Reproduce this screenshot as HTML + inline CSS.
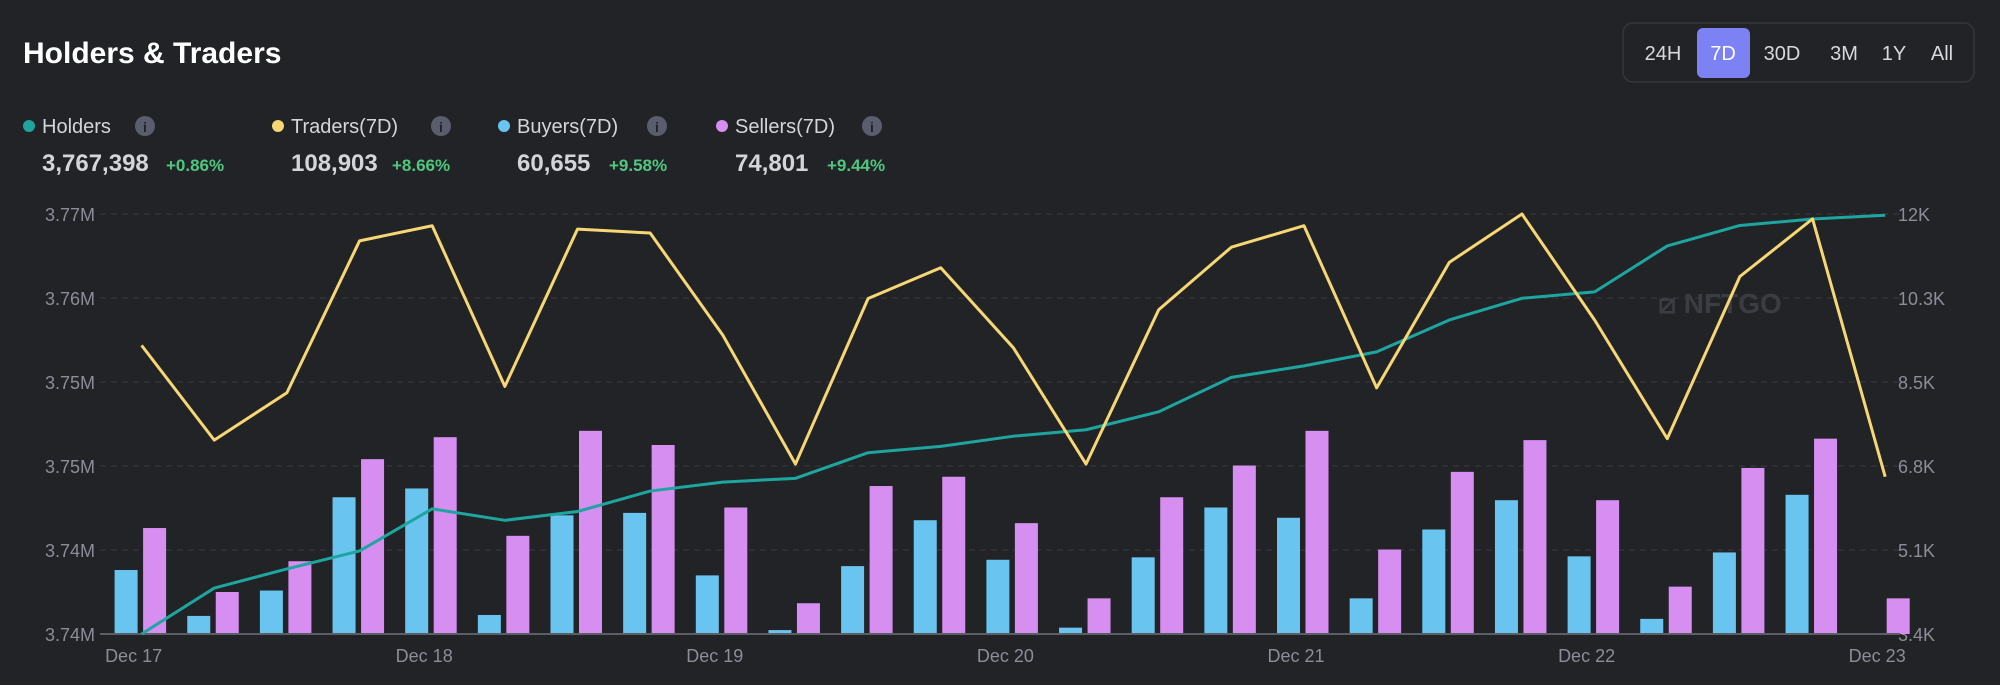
<!DOCTYPE html>
<html><head><meta charset="utf-8"><style>
html,body{margin:0;padding:0;background:#222327;}
svg{display:block;font-family:"Liberation Sans",sans-serif;}
</style></head><body>
<svg id="chart" width="2000" height="685" viewBox="0 0 2000 685">
<rect x="0" y="0" width="2000" height="685" fill="#222327"/>
<text x="23" y="63" font-size="30" font-weight="bold" fill="#ffffff">Holders &amp; Traders</text>

<g>
<rect x="1623" y="23" width="351" height="59" rx="10" fill="none" stroke="#34353b" stroke-width="1.5"/>
<rect x="1697" y="28" width="53" height="50" rx="6" fill="#7c82f4"/>
<text x="1663" y="60" font-size="20" fill="#d8d9de" text-anchor="middle">24H</text>
<text x="1723" y="60" font-size="20" fill="#ffffff" text-anchor="middle">7D</text>
<text x="1782" y="60" font-size="20" fill="#d8d9de" text-anchor="middle">30D</text>
<text x="1844" y="60" font-size="20" fill="#d8d9de" text-anchor="middle">3M</text>
<text x="1894" y="60" font-size="20" fill="#d8d9de" text-anchor="middle">1Y</text>
<text x="1942" y="60" font-size="20" fill="#d8d9de" text-anchor="middle">All</text>
</g>

<g>
<g>
<circle cx="29" cy="126" r="6" fill="#1fa5a0"/>
<text x="42" y="133" font-size="20" fill="#d4d5da">Holders</text>
<circle cx="145" cy="126" r="10" fill="#5a5d6e"/><text x="145" y="132" font-size="14" font-weight="bold" fill="#222327" text-anchor="middle">i</text>
<text x="42" y="171" font-size="24" font-weight="bold" fill="#d4d5da">3,767,398</text>
<text x="166" y="171" font-size="17" font-weight="bold" fill="#4fc77f">+0.86%</text>
</g>
<g>
<circle cx="278" cy="126" r="6" fill="#f7d774"/>
<text x="291" y="133" font-size="20" fill="#d4d5da">Traders(7D)</text>
<circle cx="441" cy="126" r="10" fill="#5a5d6e"/><text x="441" y="132" font-size="14" font-weight="bold" fill="#222327" text-anchor="middle">i</text>
<text x="291" y="171" font-size="24" font-weight="bold" fill="#d4d5da">108,903</text>
<text x="392" y="171" font-size="17" font-weight="bold" fill="#4fc77f">+8.66%</text>
</g>
<g>
<circle cx="504" cy="126" r="6" fill="#6ac4f0"/>
<text x="517" y="133" font-size="20" fill="#d4d5da">Buyers(7D)</text>
<circle cx="657" cy="126" r="10" fill="#5a5d6e"/><text x="657" y="132" font-size="14" font-weight="bold" fill="#222327" text-anchor="middle">i</text>
<text x="517" y="171" font-size="24" font-weight="bold" fill="#d4d5da">60,655</text>
<text x="609" y="171" font-size="17" font-weight="bold" fill="#4fc77f">+9.58%</text>
</g>
<g>
<circle cx="722" cy="126" r="6" fill="#d68ef0"/>
<text x="735" y="133" font-size="20" fill="#d4d5da">Sellers(7D)</text>
<circle cx="872" cy="126" r="10" fill="#5a5d6e"/><text x="872" y="132" font-size="14" font-weight="bold" fill="#222327" text-anchor="middle">i</text>
<text x="735" y="171" font-size="24" font-weight="bold" fill="#d4d5da">74,801</text>
<text x="827" y="171" font-size="17" font-weight="bold" fill="#4fc77f">+9.44%</text>
</g>
</g>

<text x="1720" y="313" font-size="28" font-weight="bold" fill="#3b3d43" text-anchor="middle">⧄ NFTGO</text>
<g id="plot"></g>
</svg>
<script>
const xLabels = ["Dec 17","Dec 18","Dec 19","Dec 20","Dec 21","Dec 22","Dec 23"];
const leftTicks = ["3.74M","3.74M","3.75M","3.75M","3.76M","3.77M"];
const rightTicks = ["3.4K","5.1K","6.8K","8.5K","10.3K","12K"];
const holders = [3.7400,3.74328,3.74465,3.74593,3.74894,3.74812,3.74875,3.75021,3.75085,3.75112,3.75295,3.7534,3.75413,3.75459,3.75587,3.75833,3.75915,3.76015,3.76243,3.76398,3.76444,3.76772,3.76918,3.76964,3.76991];
const traders = [9.31,7.37,8.34,11.45,11.76,8.47,11.69,11.61,9.52,6.88,10.27,10.90,9.26,6.88,10.04,11.32,11.76,8.44,11.01,12.0,9.83,7.40,10.72,11.90,6.62];
const buyers = [4.71,3.77,4.29,6.20,6.38,3.79,5.83,5.88,4.60,3.48,4.79,5.73,4.92,3.53,4.97,5.99,5.78,4.13,5.54,6.14,4.99,3.71,5.07,6.25,3.4];
const sellers = [5.57,4.26,4.89,6.98,7.43,5.41,7.56,7.27,5.99,4.03,6.43,6.62,5.67,4.13,6.20,6.85,7.56,5.13,6.72,7.37,6.14,4.37,6.80,7.40,4.13];
const leftMin = 3.740, leftMax = 3.770, rightMin = 3.4, rightMax = 12.0;

const NS = "http://www.w3.org/2000/svg";
const plot = document.getElementById("plot");
const X0 = 141.6, STEP = 72.65, YB = 634, YT = 214;
const xs = i => X0 + STEP * i;
const yL = v => YB - (v - leftMin) / (leftMax - leftMin) * (YB - YT);
const yR = v => YB - (v - rightMin) / (rightMax - rightMin) * (YB - YT);
function mk(tag, attrs){const e=document.createElementNS(NS,tag);for(const k in attrs)e.setAttribute(k,attrs[k]);plot.appendChild(e);return e;}

leftTicks.forEach((t,i)=>{
  const y = YB - i*(YB-YT)/(leftTicks.length-1);
  if(i>0){const g=mk("line",{x1:100,x2:1900,y1:y,y2:y,stroke:"#393a40","stroke-width":1,"stroke-dasharray":"6,5"});
  
  }
  const tl=mk("text",{x:95,y:y+7,"font-size":18,fill:"#8b8d98","text-anchor":"end"});tl.textContent=t;
  
  
  const tr=mk("text",{x:1898,y:y+7,"font-size":18,fill:"#8b8d98"});tr.textContent=rightTicks[i];
  
  
});

buyers.forEach((v,i)=>{
  const h = YB - yR(v);
  if(h>0.5){const b=mk("rect",{x:xs(i)-27,y:yR(v),width:23,height:h,fill:"#6ac4f0"});
  
  }
  const s=mk("rect",{x:xs(i)+1.5,y:yR(sellers[i]),width:23,height:YB-yR(sellers[i]),fill:"#d68ef0"});
  
  
});

const base=mk("line",{x1:100,x2:1900,y1:YB,y2:YB,stroke:"#5c5e66","stroke-width":2});



const hl=mk("polyline",{points:holders.map((v,i)=>xs(i)+","+yL(v)).join(" "),fill:"none",stroke:"#1fa5a0","stroke-width":3,"stroke-linejoin":"round"});


const tl=mk("polyline",{points:traders.map((v,i)=>xs(i)+","+yR(v)).join(" "),fill:"none",stroke:"#f7d774","stroke-width":3,"stroke-linejoin":"round"});



xLabels.forEach((t,i)=>{
  const e=mk("text",{x:xs(i*4)-8,y:662,"font-size":18,fill:"#8b8d98","text-anchor":"middle"});e.textContent=t;
  
  
});
</script>
</body></html>
